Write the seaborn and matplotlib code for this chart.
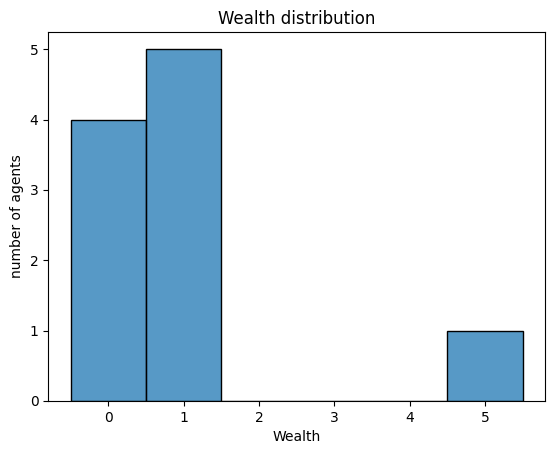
import pandas as pd
import matplotlib
matplotlib.use('Agg')
import matplotlib.pyplot as plt
import seaborn as sns

# wealth of each agent
wealth = [0, 0, 0, 0, 1, 1, 1, 1, 1, 5]

df = pd.DataFrame({'Wealth': wealth})

fig = plt.figure(figsize=(5.54, 4.55), dpi=100)
ax = fig.add_axes([0.087, 0.119, 0.897, 0.811])

sns.histplot(df, x='Wealth', discrete=True, ax=ax, edgecolor='black')

ax.set_title('Wealth distribution')
ax.set_xlabel('Wealth')
ax.set_ylabel('number of agents')

fig.savefig('out.png', dpi=100)
